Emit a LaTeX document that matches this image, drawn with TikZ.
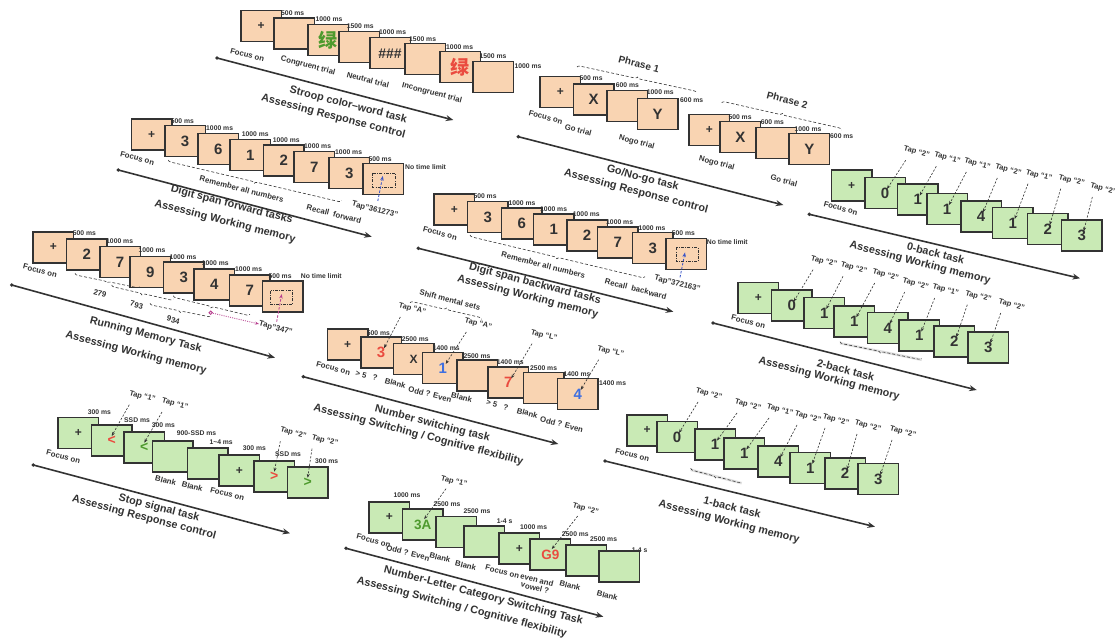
\documentclass[tikz,border=0pt]{standalone}
\usepackage{fontspec}
\setmainfont{Liberation Sans}
\newfontfamily\cjkf{Noto Sans CJK SC}
\usetikzlibrary{arrows.meta,calc,decorations.pathreplacing}
\definecolor{peach}{HTML}{F9D4B2}
\definecolor{lgreen}{HTML}{C9EAB5}
\definecolor{dk}{HTML}{333333}
\definecolor{cred}{HTML}{EA4B3F}
\definecolor{cgreen}{HTML}{4E9A2E}
\definecolor{cblue}{HTML}{3F6FE0}
\definecolor{cpink}{HTML}{B8408F}
\definecolor{cnavy}{HTML}{3A55C8}
\newcommand\plussign{{\fontsize{12}{12}\selectfont +}}
\newcommand\lvg{{\cjkf\fontsize{19}{19}\selectfont\textcolor{cgreen}{绿}}}
\newcommand\lvr{{\cjkf\fontsize{19}{19}\selectfont\textcolor{cred}{绿}}}
\begin{document}
\begin{tikzpicture}[x=1pt,y=-1pt,
  scr/.style={draw=dk, line width=1.5pt, minimum width=40.5pt, minimum height=31pt, anchor=north west, inner sep=0pt, font=\bfseries\fontsize{15}{15}\selectfont, text=dk},
  obx/.style={scr, fill=peach},
  gbx/.style={scr, fill=lgreen},
  tm/.style={anchor=west, inner sep=0pt, text=dk, font=\bfseries\fontsize{6.8}{7}\selectfont},
  lb/.style={rotate=-14.5, inner sep=0pt, text=dk, font=\bfseries\fontsize{7.8}{8}\selectfont, align=center},
  tapl/.style={rotate=-14.5, inner sep=0pt, text=dk, font=\bfseries\fontsize{7.5}{8}\selectfont},
  ttl/.style={rotate=-14.5, inner sep=0pt, text=dk, font=\bfseries\fontsize{10.8}{11}\selectfont},
  phr/.style={rotate=-14.5, inner sep=0pt, text=dk, font=\bfseries\fontsize{10}{10}\selectfont},
  axis/.style={draw=dk, line width=1.6pt, -{Stealth[length=7.5pt,width=6pt]}},
  taparrow/.style={draw=dk, line width=0.6pt, dash pattern=on 2.2pt off 1.6pt, -{Stealth[length=4pt,width=3pt]}},
  brc/.style={draw=dk, line width=0.6pt, dash pattern=on 3pt off 2pt, decorate, decoration={brace, amplitude=3pt}},
  brcm/.style={draw=dk, line width=0.6pt, dash pattern=on 3pt off 2pt, decorate, decoration={brace, amplitude=3pt, mirror}},
  tgt/.style={draw=dk, line width=0.6pt, dash pattern=on 3pt off 1.4pt on 0.6pt off 1.4pt},
  resp/.style={line width=0.8pt, dash pattern=on 2.5pt off 1.6pt, -{Stealth[length=4.5pt,width=3.5pt]}},
]
\fill[white] (0,0) rectangle (1115,639);
\useasboundingbox (0,0) rectangle (1115,639);

%% ---------------- Stroop ----------------
\foreach \n/\x/\y/\t in {1/240/10/\plussign, 2/273.3/17.3/{}, 3/307/24/\lvg, 4/338/31/{}, 5/369/37/{\fontsize{14}{14}\selectfont\#\#\#}, 6/404/43/{}, 7/439/51/\lvr, 8/472.3/60.7/{}}
  \node[obx] (st\n) at (\x,\y) {\t};
\foreach \x/\y/\t [count=\i] in {281/12.7/500 ms, 315.3/19.3/1000 ms, 346.7/26/1500 ms, 379/32.3/1000 ms, 409/39/1500 ms, 446/47/1000 ms, 479.3/56/1500 ms, 514.3/65.7/1000 ms}
  \node[tm] (stt\i) at (\x,\y) {\t};
\node[lb] (stl1) at (247.3,55) {Focus on};
\node[lb] (stl2) at (308,66) {Congruent trial};
\node[lb] (stl3) at (368,80) {Neutral trial};
\node[lb] (stl4) at (432,93) {Incongruent trial};
\coordinate (stA) at (217,58);
\coordinate (stB) at (453.3,120);
\fill[dk] (stA) circle (1.9);
\draw[axis] (stA) -- (stB);
\node[ttl] (stT1) at (348.3,105) {Stroop color–word task};
\node[ttl] (stT2) at (333.3,116.7) {Assessing Response control};

%% ---------------- Go/No-go ----------------
\foreach \n/\x/\y/\t in {1/539.3/76/\plussign, 2/572.7/83.3/X, 3/606/90/{}, 4/636.7/97.7/Y}
  \node[obx] (ga\n) at (\x,\y) {\t};
\foreach \n/\x/\y/\t in {1/688.3/114/\plussign, 2/719.3/120.7/X, 3/755/126.7/{}, 4/788.3/132.7/Y}
  \node[obx] (gb\n) at (\x,\y) {\t};
\foreach \x/\y/\t [count=\i] in {579.3/77.7/500 ms, 615.7/85.3/600 ms, 646.7/92/1000 ms, 680/100/600 ms, 728.3/116.7/500 ms, 760.7/122.3/600 ms, 794.3/129.3/1000 ms, 830/136/600 ms}
  \node[tm] (gtt\i) at (\x,\y) {\t};
\node[lb] (gl1) at (545.7,117.3) {Focus on};
\node[lb] (gl2) at (578.3,130) {Go trial};
\node[lb] (gl3) at (636.7,142.3) {Nogo trial};
\node[lb] (gl4) at (716.7,163.3) {Nogo trial};
\node[lb] (gl5) at (784,180.7) {Go trial};
\node[phr] (gp1) at (639,64) {Phrase 1};
\node[phr] (gp2) at (787.3,100) {Phrase 2};
\coordinate (gbr1a) at (577,67); \coordinate (gbr1b) at (697,93);
\coordinate (gbr2a) at (721.7,102.7); \coordinate (gbr2b) at (841.7,130);
\draw[brc] (gbr1a) -- (gbr1b);
\draw[brc] (gbr2a) -- (gbr2b);
\coordinate (gA) at (518.3,136.7);
\coordinate (gB) at (783.3,205);
\fill[dk] (gA) circle (1.9);
\draw[axis] (gA) -- (gB);
\node[ttl] (gT1) at (642.7,178.3) {Go/No-go task};
\node[ttl] (gT2) at (636,191.7) {Assessing Response control};

%% ---------------- Digit span forward ----------------
\foreach \n/\x/\y/\t in {1/130.7/118.3/\plussign, 2/164/125/3, 3/197.3/132.7/6, 4/229.3/138.7/1, 5/262.7/144.3/2, 6/293.3/150.7/7, 7/328.3/156.7/3, 8/362.3/162.7/{}}
  \node[obx] (df\n) at (\x,\y) {\t};
\foreach \x/\y/\t [count=\i] in {170.7/121/500 ms, 206/128.3/1000 ms, 241.7/134.3/1000 ms, 272.7/140/1000 ms, 304/145.7/1000 ms, 335/152.3/1000 ms, 368.3/159/500 ms, 405/166.7/No time limit}
  \node[tm] (dft\i) at (\x,\y) {\t};
\draw[tgt] ($(df8.center)+(-11,-6)$) rectangle ($(df8.center)+(12,8)$);
\draw[resp, draw=cnavy] ($(df8.center)+(-5.5,22)$) -- ($(df8.center)+(-0.5,-3)$);
\node[lb] (dfl1) at (137.3,158.3) {Focus on};
\node[lb] (dfl2) at (241.7,189) {Remember all numbers};
\node[lb] (dfl3) at (334,214) {Recall~ forward};
\node[lb] (dfl4) at (375,210) {Tap"361273"};
\coordinate (dfbra) at (168.3,160); \coordinate (dfbrb) at (341.7,200.7);
\draw[brcm] (dfbra) -- (dfbrb);
\coordinate (dfA) at (118.3,170);
\coordinate (dfB) at (371.7,236.7);
\fill[dk] (dfA) circle (1.9);
\draw[axis] (dfA) -- (dfB);
\node[ttl] (dfT1) at (231.7,205) {Digit span forward tasks};
\node[ttl] (dfT2) at (225,221.7) {Assessing Working memory};

%% ---------------- Digit span backward ----------------
\foreach \n/\x/\y/\t in {1/433.3/193.3/\plussign, 2/466.7/200.7/3, 3/500.7/207.3/6, 4/532.7/213.3/1, 5/566/219.3/2, 6/596.7/226/7, 7/631.7/231.7/3, 8/665/237.7/{}}
  \node[obx] (db\n) at (\x,\y) {\t};
\foreach \x/\y/\t [count=\i] in {473.3/196/500 ms, 508.3/203.3/1000 ms, 540/209.3/1000 ms, 572.7/214/1000 ms, 606/221.7/1000 ms, 638.3/227.7/1000 ms, 671.7/233.3/500 ms, 706.7/241.7/No time limit}
  \node[tm] (dbt\i) at (\x,\y) {\t};
\draw[tgt] ($(db8.center)+(-10,-6.5)$) rectangle ($(db8.center)+(12,7.5)$);
\draw[resp, draw=cnavy] ($(db8.center)+(-6,23.5)$) -- ($(db8.center)+(-1,-1.5)$);
\node[lb] (dbl1) at (440,233.3) {Focus on};
\node[lb] (dbl2) at (543.3,265) {Remember all numbers};
\node[lb] (dbl3) at (635.7,289) {Recall~ backward};
\node[lb] (dbl4) at (677.3,284) {Tap"372163"};
\coordinate (dbbra) at (470,235); \coordinate (dbbrb) at (645,276.7);
\draw[brcm] (dbbra) -- (dbbrb);
\coordinate (dbA) at (418.3,248.3);
\coordinate (dbB) at (673.3,311.7);
\fill[dk] (dbA) circle (1.9);
\draw[axis] (dbA) -- (dbB);
\node[ttl] (dbT1) at (535,284) {Digit span backward tasks};
\node[ttl] (dbT2) at (527.7,296.7) {Assessing Working memory};

%% ---------------- Running memory ----------------
\foreach \n/\x/\y/\t in {1/32.3/231/\plussign, 2/65.7/238.3/2, 3/99/245.7/7, 4/129.3/255.7/9, 5/162.7/261/3, 6/193.3/268.3/4, 7/228.7/274.3/7, 8/261.7/280/{}}
  \node[obx] (rm\n) at (\x,\y) {\t};
\foreach \x/\y/\t [count=\i] in {72.7/233.3/500 ms, 106/241/1000 ms, 138.3/250/1000 ms, 169.3/256.7/1000 ms, 201.7/263.3/1000 ms, 235/269.3/1000 ms, 268.3/275.7/500 ms, 300.7/275.7/No time limit}
  \node[tm] (rmt\i) at (\x,\y) {\t};
\draw[tgt] ($(rm8.center)+(-12,-5.5)$) rectangle ($(rm8.center)+(10,8)$);
\draw[resp, draw=cpink] ($(rm8.center)+(-6,25.5)$) -- ($(rm8.center)+(-1,-2.2)$);
\coordinate (rb1a) at (75,273.3); \coordinate (rb1b) at (140,286.7);
\coordinate (rb2a) at (111.7,285); \coordinate (rb2b) at (173.3,299);
\coordinate (rb3a) at (150,303.3); \coordinate (rb3b) at (211.7,315.7);
\coordinate (rb4a) at (173.3,295.7); \coordinate (rb4b) at (250,314.3);
\draw[brcm] (rb1a) -- (rb1b);
\draw[brcm] (rb2a) -- (rb2b);
\draw[brcm] (rb3a) -- (rb3b);
\draw[brcm] (rb4a) -- (rb4b);
\node[lb] (rml1) at (40,270.7) {Focus on};
\node[lb] (rml2) at (100,293.3) {279};
\node[lb] (rml3) at (136.7,305) {793};
\node[lb] (rml4) at (173.3,320) {934};
\node[lb] (rml5) at (275.7,328.3) {Tap"347"};
\coordinate (rmc) at (210.7,312.7);
\draw[cpink, line width=0.8pt] (rmc) circle (1.7);
\draw[cpink, line width=0.8pt, dash pattern=on 1pt off 1.2pt, -{Stealth[length=4pt,width=3pt]}] (rmc) -- (rml5.west);
\coordinate (rmA) at (11.7,285);
\coordinate (rmB) at (275,357.7);
\fill[dk] (rmA) circle (1.9);
\draw[axis] (rmA) -- (rmB);
\node[ttl] (rmT1) at (145.7,335) {Running Memory Task};
\node[ttl] (rmT2) at (136,353.3) {Assessing Working memory};

%% ---------------- Number switching ----------------
\foreach \n/\x/\y/\t in {1/326.7/328.3/\plussign, 2/360/336/{\textcolor{cred}{3}}, 3/392.7/342.7/{\fontsize{12}{12}\selectfont X}, 4/421.7/351.7/{\textcolor{cblue}{1}}, 5/456/359.3/{}, 6/487.3/366/{\textcolor{cred}{7}}, 7/522.7/371.7/{}, 8/556.7/377.7/{\textcolor{cblue}{4}}}
  \node[obx] (ns\n) at (\x,\y) {\t};
\foreach \x/\y/\t [count=\i] in {366.7/332.7/500 ms, 401.7/339/2500 ms, 432.7/348.3/1400 ms, 463.3/355.7/2500 ms, 496.7/361.7/1400 ms, 530/368.3/2500 ms, 563.3/374.3/1400 ms, 599/383.3/1400 ms}
  \node[tm] (nst\i) at (\x,\y) {\t};
\foreach \x/\y/\t/\b [count=\i] in {412.3/309/A/ns2, 478.3/324/A/ns4, 544/335.7/L/ns6, 610.7/351.7/L/ns8}
  {\node[tapl] (nsp\i) at (\x,\y) {Tap “\t”};
   \draw[taparrow] ($(nsp\i.center)+(-12,8)$) -- ($(\b.center)+(3,-4)$);}
\node[lb] (nsl0) at (450,300) {Shift mental sets};
\coordinate (nsbra) at (410,302.7); \coordinate (nsbrb) at (481.7,319.3);
\draw[brc] (nsbra) -- (nsbrb);
\node[lb] (nsl1) at (333.3,368.3) {Focus on};
\node[lb] (nsl2) at (366.7,375.7) {> 5 ~ ?};
\node[lb] (nsl3) at (395.3,383) {Blank};
\node[lb] (nsl4) at (430,394.3) {Odd ? Even};
\node[lb] (nsl5) at (461.7,397.3) {Blank};
\node[lb] (nsl6) at (497.3,405) {> 5 ~ ?};
\node[lb] (nsl7) at (527.3,413) {Blank};
\node[lb] (nsl8) at (561.7,424.3) {Odd ? Even};
\coordinate (nsA) at (303.3,376.7);
\coordinate (nsB) at (558.3,444);
\fill[dk] (nsA) circle (1.9);
\draw[axis] (nsA) -- (nsB);
\node[ttl] (nsT1) at (432.3,424) {Number switching task};
\node[ttl] (nsT2) at (418.3,435) {Assessing Switching / Cognitive flexibility};

%% ---------------- 0-back ----------------
\foreach \n/\x/\y/\t in {1/830.7/169.3/\plussign, 2/864/176.7/0, 3/896.7/183.3/1, 4/926/192.7/1, 5/960/200/4, 6/991.7/206.7/1, 7/1026.7/212.7/2, 8/1060.7/219/3}
  \node[gbx] (zb\n) at (\x,\y) {\t};
\foreach \x/\y/\t/\b [count=\i] in {916.7/152.3/2/zb2, 947.3/158.3/1/zb3, 977.3/164/1/zb4, 1008.3/170/2/zb5, 1039/175.7/1/zb6, 1071.7/180.7/2/zb7, 1103.3/189/2/zb8}
  {\node[tapl] (zp\i) at (\x,\y) {Tap “\t”};
   \draw[taparrow] ($(zp\i.center)+(-11,8)$) -- ($(\b.center)+(2,-4)$);}
\node[lb] (zl1) at (840.7,208.3) {Focus on};
\coordinate (zA) at (809.3,214.3);
\coordinate (zB) at (1080,278.3);
\fill[dk] (zA) circle (1.9);
\draw[axis] (zA) -- (zB);
\node[ttl] (zT1) at (935.7,253.3) {0-back task};
\node[ttl] (zT2) at (920,263.3) {Assessing Working memory};

%% ---------------- 2-back ----------------
\foreach \n/\x/\y/\t in {1/737.3/281.7/\plussign, 2/770.7/289.3/0, 3/803.3/296.7/1, 4/833.3/305/1, 5/866.7/311.7/4, 6/898.3/319.3/1, 7/933.3/325/2, 8/967.3/331/3}
  \node[gbx] (tb\n) at (\x,\y) {\t};
\foreach \x/\y/\t/\b [count=\i] in {824/261.7/2/tb2, 854/268.3/2/tb3, 885.7/275/2/tb4, 915.7/284/2/tb5, 945.7/290/1/tb6, 978.3/296.7/2/tb7, 1011.7/305/2/tb8}
  {\node[tapl] (tp\i) at (\x,\y) {Tap “\t”};
   \draw[taparrow] ($(tp\i.center)+(-11,8)$) -- ($(\b.center)+(2,-4)$);}
\node[lb] (tl1) at (748.3,321.7) {Focus on};
\coordinate (tbra) at (840,341.7); \coordinate (tbrb) at (921.7,358.3);
\draw[gray!25, line width=2.5pt] ($(tbra)+(0,1.5)$) -- ($(tbrb)+(0,1.5)$);
\draw[brcm] (tbra) -- (tbrb);
\coordinate (tA) at (713,323);
\coordinate (tB) at (976.7,390);
\fill[dk] (tA) circle (1.9);
\draw[axis] (tA) -- (tB);
\node[ttl] (tT1) at (845.7,370) {2-back task};
\node[ttl] (tT2) at (829,379) {Assessing Working memory};

%% ---------------- 1-back ----------------
\foreach \n/\x/\y/\t in {1/626/414/\plussign, 2/656/420.7/0, 3/694/428.3/1, 4/723.3/437.3/1, 5/757.3/445/4, 6/789.3/451.7/1, 7/824/457.3/2, 8/857.3/462.7/3}
  \node[gbx] (ob\n) at (\x,\y) {\t};
\foreach \x/\y/\t/\b [count=\i] in {709/394/2/ob2, 748/405/2/ob3, 780/410/1/ob4, 808/417/2/ob5, 836/420/2/ob6, 868/426/2/ob7, 903/432/2/ob8}
  {\node[tapl] (op\i) at (\x,\y) {Tap “\t”};
   \draw[taparrow] ($(op\i.center)+(-11,8)$) -- ($(\b.center)+(2,-4)$);}
\node[lb] (ol1) at (632.3,455) {Focus on};
\coordinate (obra) at (690.7,468.3); \coordinate (obrb) at (741.7,481.7);
\draw[gray!25, line width=2.5pt] ($(obra)+(0,1.5)$) -- ($(obrb)+(0,1.5)$);
\draw[brcm] (obra) -- (obrb);
\coordinate (oA) at (605,461);
\coordinate (oB) at (875,526.7);
\fill[dk] (oA) circle (1.9);
\draw[axis] (oA) -- (oB);
\node[ttl] (oT1) at (732.3,507.3) {1-back task};
\node[ttl] (oT2) at (729,522.3) {Assessing Working memory};

%% ---------------- Stop signal ----------------
\foreach \n/\x/\y/\t in {1/57.3/416.7/\plussign, 2/90.7/424.3/{\fontsize{14}{14}\selectfont\textcolor{cred}{<}}, 3/123.3/431/{\fontsize{14}{14}\selectfont\textcolor{cgreen}{<}}, 4/151.7/440/{}, 5/186.7/447.3/{}, 6/218.3/454.3/\plussign, 7/253.3/460/{\fontsize{14}{14}\selectfont\textcolor{cred}{>}}, 8/286.7/466/{\fontsize{14}{14}\selectfont\textcolor{cgreen}{>}}}
  \node[gbx] (ss\n) at (\x,\y) {\t};
\foreach \x/\y/\t [count=\i] in {87.7/411.7/300 ms, 124/420/SSD ms, 151.7/425/300 ms, 176.7/433.3/900-SSD ms, 209.3/441.7/1\textasciitilde4 ms, 242.7/448.3/300 ms, 275/454.3/SSD ms, 315/461/300 ms}
  \node[tm] (sst\i) at (\x,\y) {\t};
\foreach \x/\y/\t/\b [count=\i] in {142.3/396.7/1/ss2, 175/404/1/ss3, 293.3/433.3/2/ss7, 325/440.7/2/ss8}
  {\node[tapl] (sp\i) at (\x,\y) {Tap “\t”};
   \draw[taparrow] ($(sp\i.center)+(-13,8)$) -- ($(\b.center)+(0,-4.5)$);}
\node[lb] (sl1) at (63.3,456.7) {Focus on};
\node[lb] (sl2) at (165.7,480.7) {Blank};
\node[lb] (sl3) at (192.3,486.7) {Blank};
\node[lb] (sl4) at (227.3,494) {Focus on};
\coordinate (sA) at (33.3,465);
\coordinate (sB) at (290,533.3);
\fill[dk] (sA) circle (1.9);
\draw[axis] (sA) -- (sB);
\node[ttl] (sT1) at (159,508.3) {Stop signal task};
\node[ttl] (sT2) at (144,517.7) {Assessing Response control};

%% ---------------- Number-Letter ----------------
\foreach \n/\x/\y/\t in {1/368.3/501/\plussign, 2/401.7/508.3/{\fontsize{13.5}{13.5}\selectfont\textcolor{cgreen}{3A}}, 3/435/515.7/{}, 4/463.3/525/{}, 5/498.3/532.3/\plussign, 6/529.3/538.3/{\fontsize{13.5}{13.5}\selectfont\textcolor{cred}{G9}}, 7/565/544.3/{}, 8/598.3/550/{}}
  \node[gbx] (nl\n) at (\x,\y) {\t};
\foreach \x/\y/\t [count=\i] in {393.3/495/1000 ms, 433.3/504/2500 ms, 463.3/510.7/2500 ms, 496.7/521/1-4 s, 520/527.3/1000 ms, 561.7/534.3/2500 ms, 590/539/2500 ms, 631.7/550/1-4 s}
  \node[tm] (nlt\i) at (\x,\y) {\t};
\foreach \x/\y/\t/\b [count=\i] in {454/481.7/1/nl2, 585.7/509/2/nl6}
  {\node[tapl] (nlp\i) at (\x,\y) {Tap “\t”};
   \draw[taparrow] ($(nlp\i.center)+(-8,7)$) -- ($(\b.center)+(1.5,-5.5)$);}
\node[lb] (nll1) at (373.5,540.5) {Focus on};
\node[lb] (nll2) at (408,553) {Odd ? Even};
\node[lb] (nll3) at (440,557.7) {Blank};
\node[lb] (nll4) at (465.7,565.7) {Blank};
\node[lb] (nll5) at (502.3,571.7) {Focus on};
\node[lb] (nll6) at (536,584) {even and\\vowel ?};
\node[lb] (nll7) at (570,585.7) {Blank};
\node[lb] (nll8) at (607.3,595.7) {Blank};
\coordinate (nlA) at (346,548.3);
\coordinate (nlB) at (603.3,616.7);
\fill[dk] (nlA) circle (1.9);
\draw[axis] (nlA) -- (nlB);
\node[ttl] (nlT1) at (483.3,595.7) {Number-Letter Category Switching Task};
\node[ttl] (nlT2) at (461.7,607.7) {Assessing Switching / Cognitive flexibility};
\end{tikzpicture}
\end{document}
